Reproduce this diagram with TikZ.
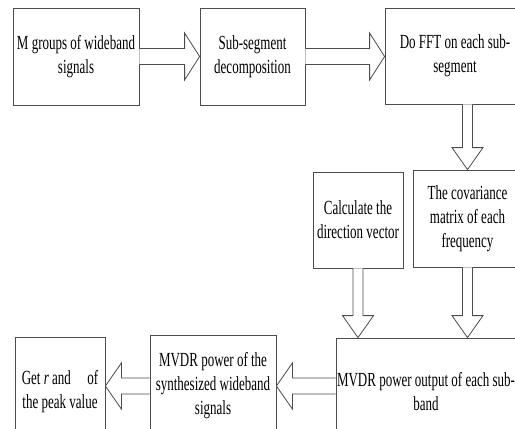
\documentclass[tikz,border=0pt]{standalone}
\usepackage{fontspec}
\setmainfont{Liberation Serif}[FakeStretch=0.65]
\usetikzlibrary{calc}

% hollow block arrows: right, left, down
\newcommand\rblock[2]{\draw[blk] let \p1=#1, \p2=#2 in
  (\x1,\y1+8) -- (\x2-15,\y1+8) -- (\x2-15,\y1+23.5) -- (\x2,\y1)
  -- (\x2-15,\y1-23.5) -- (\x2-15,\y1-8) -- (\x1,\y1-8);}
\newcommand\lblock[2]{\draw[blk] let \p1=#1, \p2=#2 in
  (\x1,\y1+8) -- (\x2+16,\y1+8) -- (\x2+16,\y1+23) -- (\x2,\y1)
  -- (\x2+16,\y1-23) -- (\x2+16,\y1-8) -- (\x1,\y1-8);}
\newcommand\dblock[2]{\draw[blk] let \p1=#1, \p2=#2 in
  (\x2-5,\y1) -- (\x2-5,\y2+22) -- (\x2-15.5,\y2+22) -- (\x2,\y2)
  -- (\x2+15.5,\y2+22) -- (\x2+5,\y2+22) -- (\x2+5,\y1);}

\begin{document}
\begin{tikzpicture}[x=1pt,y=1pt,
  box/.style={draw=black!70,line width=0.8pt,align=center,inner sep=1pt,
    font=\fontsize{20}{24}\selectfont},
  blk/.style={draw=black!70,line width=0.8pt,fill=white}]
\clip (0,0) rectangle (515,-429);
% top row
\node[box,minimum width=126,minimum height=97] (grp) at (76,-56.5) {M groups of wideband\\signals};
\node[box,minimum width=105,minimum height=97] (seg) at (252.5,-56.5) {Sub-segment\\decomposition};
\node[box,minimum width=140,minimum height=96] (fft) at (455,-56) {Do FFT on each sub-\\segment};
% middle row
\node[box,minimum width=90,minimum height=96] (dir) at (358,-220) {Calculate the\\direction vector};
\node[box,minimum width=109,minimum height=97] (cov) at (467.5,-218.5) {The covariance\\matrix of each\\frequency};
% bottom row
\node[box,minimum width=178,minimum height=108] (out) at (426,-392) {MVDR power output of each sub-\\band};
\node[box,minimum width=126,minimum height=102] (pow) at (213,-386) {MVDR power of the\\synthesized wideband\\signals};
\node[box,minimum width=90,minimum height=110] (getr) at (60,-392) {Get \textit{r} and \hspace{10pt} of\\the peak value};
% arrows
\rblock{(grp.east)}{(seg.west)}
\rblock{(seg.east)}{(fft.west)}
\dblock{(fft.south -| cov)}{(cov.north)}
\dblock{(dir.south)}{(dir.south |- out.north)}
\dblock{(cov.south)}{(cov.south |- out.north)}
\lblock{(out.west |- pow)}{(pow.east)}
\lblock{(pow.west)}{(getr.east |- pow)}
\end{tikzpicture}
\end{document}
